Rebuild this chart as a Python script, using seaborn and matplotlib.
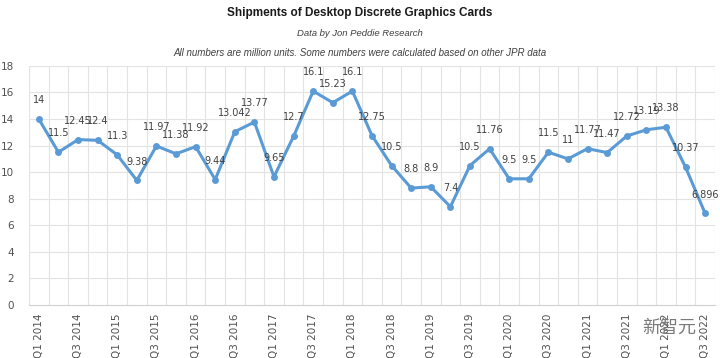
import numpy as np
import pandas as pd
import matplotlib
matplotlib.use("Agg")
import matplotlib.pyplot as plt
import seaborn as sns

quarters = [f"Q{q} {y}" for y in range(2014, 2023) for q in range(1, 5)][:35]
shipments = [14, 11.5, 12.45, 12.4, 11.3, 9.38, 11.97, 11.38, 11.92, 9.44,
             13.042, 13.77, 9.65, 12.7, 16.1, 15.23, 16.1, 12.75, 10.5, 8.8,
             8.9, 7.4, 10.5, 11.76, 9.5, 9.5, 11.5, 11, 11.77, 11.47,
             12.72, 13.19, 13.38, 10.37, 6.896]
labels = ["14", "11.5", "12.45", "12.4", "11.3", "9.38", "11.97", "11.38", "11.92", "9.44",
          "13.042", "13.77", "9.65", "12.7", "16.1", "15.23", "16.1", "12.75", "10.5", "8.8",
          "8.9", "7.4", "10.5", "11.76", "9.5", "9.5", "11.5", "11", "11.77", "11.47",
          "12.72", "13.19", "13.38", "10.37", "6.896"]

df = pd.DataFrame({"idx": np.arange(len(quarters)), "quarter": quarters, "value": shipments})

sns.set_theme(style="white")
plt.rcParams['font.family'] = ['DejaVu Sans', 'Noto Sans CJK SC']

fig = plt.figure(figsize=(7.2, 3.58), dpi=100)
ax = fig.add_axes([0.0403, 0.148, 0.9527, 0.668])

color = "#5B9BD5"
sns.lineplot(data=df, x="idx", y="value", ax=ax, color=color, linewidth=2.2,
             marker="o", markersize=5, markeredgewidth=0, markerfacecolor=color)

ax.set_xlim(-0.5, len(quarters) - 0.5)
ax.set_ylim(0, 18)
ax.set_yticks(np.arange(0, 19, 2))
ax.set_yticklabels([str(v) for v in range(0, 19, 2)], fontsize=7.5, color="#505050")
ax.tick_params(axis="y", length=0, pad=11)

ax.set_xticks(np.arange(0, len(quarters), 2))
ax.set_xticklabels(quarters[::2], rotation=90, fontsize=7.5, color="#505050")
ax.tick_params(axis="x", length=0, pad=6)

ax.grid(False)
for y in range(2, 19, 2):
    ax.axhline(y, color="#e3e3e3", linewidth=0.8, zorder=0)
for x in np.arange(-0.5, len(quarters), 1):
    ax.axvline(x, color="#e3e3e3", linewidth=0.8, zorder=0)
for s in ["top", "right", "left"]:
    ax.spines[s].set_visible(False)
ax.spines["bottom"].set_color("#d0d0d0")
ax.spines["bottom"].set_linewidth(0.8)
ax.set_xlabel("")
ax.set_ylabel("")

for i, (v, lab) in enumerate(zip(shipments, labels)):
    ax.annotate(lab, (i, v), xytext=(0, 10), textcoords="offset points",
                ha="center", va="bottom", fontsize=7, color="#404040")

fig.text(0.5, 0.965, "Shipments of Desktop Discrete Graphics Cards", ha="center", va="center",
         fontsize=8.5, fontweight="bold", family="Liberation Sans", color="#1a1a1a")
fig.text(0.5, 0.906, "Data by Jon Peddie Research", ha="center", va="center",
         fontsize=6.8, style="italic", family="Liberation Sans", color="#404040")
fig.text(0.5, 0.853, "All numbers are million units. Some numbers were calculated based on other JPR data",
         ha="center", va="center", fontsize=7, style="italic", family="Liberation Sans", color="#404040")

fig.text(0.93, 0.085, "新智元", ha="center", va="center", fontsize=13,
         family=["Noto Sans CJK SC"], color="#7a7a7a")

fig.savefig("out.png", dpi=100)
